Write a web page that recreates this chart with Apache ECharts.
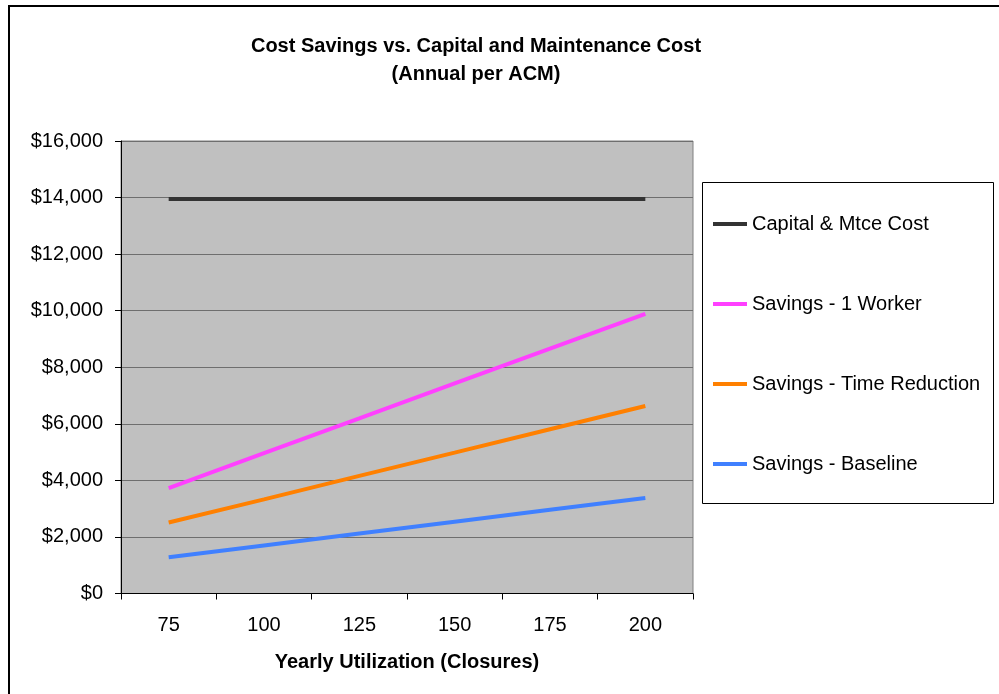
<!DOCTYPE html>
<html>
<head>
<meta charset="utf-8">
<script src="https://cdn.jsdelivr.net/npm/echarts@6/dist/echarts.min.js"></script>
<style>
html,body{margin:0;padding:0;background:#fff;}
#c{width:999px;height:694px;}
</style>
</head>
<body>
<div id="c"></div>
<script>
const categories = ['75', '100', '125', '150', '175', '200'];
const capitalMtce = [13950, 13950, 13950, 13950, 13950, 13950];
const savings1Worker = [3730, 4960, 6190, 7430, 8660, 9890];
const savingsTimeReduction = [2510, 3330, 4160, 4980, 5810, 6630];
const savingsBaseline = [1280, 1700, 2120, 2540, 2960, 3380];
const yTicks = { min: 0, max: 16000, interval: 2000 };

const FONT = '"Liberation Sans", Arial, sans-serif';
const chart = echarts.init(document.getElementById('c'), null, { renderer: 'canvas' });

function fmt(v) {
  return '$' + String(v).replace(/\B(?=(\d{3})+(?!\d))/g, ',');
}

chart.setOption({
  animation: false,
  backgroundColor: '#ffffff',
  title: {
    text: 'Cost Savings vs. Capital and Maintenance Cost\n(Annual per ACM)',
    left: 471,
    top: 27,
    textAlign: 'center',
    textStyle: { fontFamily: FONT, fontSize: 20, fontWeight: 'bold', color: '#000', lineHeight: 28 }
  },
  graphic: [
    { type: 'rect', shape: { x: 9, y: 6, width: 1000, height: 700 }, style: { fill: 'none', stroke: '#000', lineWidth: 2 }, z: -10 },
    { type: 'rect', shape: { x: 702.5, y: 182.5, width: 291, height: 321 }, style: { fill: '#fff', stroke: '#000', lineWidth: 1 }, z: -5 }
  ],
  legend: {
    orient: 'vertical',
    left: 713,
    top: 184,
    padding: 0,
    itemGap: 0,
    itemWidth: 34,
    itemHeight: 4,
    icon: 'rect',
    textStyle: { fontFamily: FONT, fontSize: 20, color: '#000', lineHeight: 80 },
    data: ['Capital & Mtce Cost', 'Savings - 1 Worker', 'Savings - Time Reduction', 'Savings - Baseline']
  },
  grid: {
    left: 121, top: 141, right: 306, bottom: 100.5,
    show: true, backgroundColor: '#C0C0C0', borderColor: '#808080', borderWidth: 1
  },
  xAxis: {
    type: 'category',
    data: categories,
    boundaryGap: true,
    name: 'Yearly Utilization (Closures)',
    nameLocation: 'middle',
    nameGap: 59,
    nameTextStyle: { fontFamily: FONT, fontSize: 20, fontWeight: 'bold', color: '#000' },
    axisLine: { lineStyle: { color: '#000', width: 1 } },
    axisTick: { show: true, length: 6, lineStyle: { color: '#000' } },
    axisLabel: { fontFamily: FONT, fontSize: 20, color: '#000', margin: 22 },
    splitLine: { show: false }
  },
  yAxis: {
    type: 'value',
    min: yTicks.min, max: yTicks.max, interval: yTicks.interval,
    axisLine: { show: true, lineStyle: { color: '#000', width: 1 } },
    axisTick: { show: true, length: 6, lineStyle: { color: '#000' } },
    axisLabel: { fontFamily: FONT, fontSize: 20, color: '#000', margin: 18, formatter: fmt },
    splitLine: { show: true, lineStyle: { color: '#6e6e6e', width: 1 } }
  },
  series: [
    { name: 'Capital & Mtce Cost', type: 'line', data: capitalMtce, showSymbol: false, symbol: 'none', color: '#333333', lineStyle: { width: 4, color: '#333333' } },
    { name: 'Savings - 1 Worker', type: 'line', data: savings1Worker, showSymbol: false, symbol: 'none', color: '#FF40FF', lineStyle: { width: 4, color: '#FF40FF' } },
    { name: 'Savings - Time Reduction', type: 'line', data: savingsTimeReduction, showSymbol: false, symbol: 'none', color: '#FF8000', lineStyle: { width: 4, color: '#FF8000' } },
    { name: 'Savings - Baseline', type: 'line', data: savingsBaseline, showSymbol: false, symbol: 'none', color: '#4080FF', lineStyle: { width: 4, color: '#4080FF' } }
  ]
});
</script>
</body>
</html>
